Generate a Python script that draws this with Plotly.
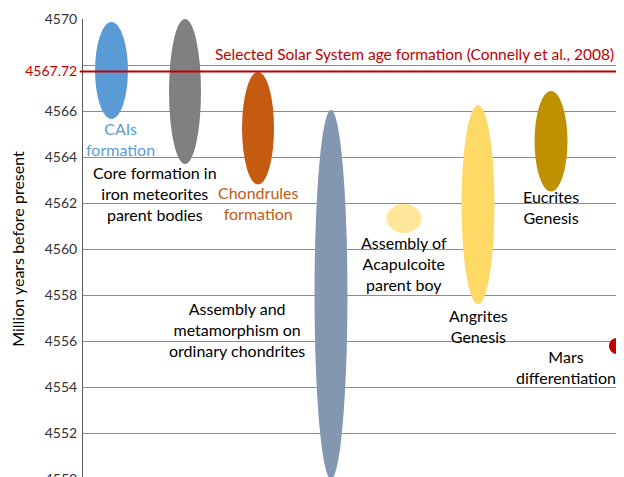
import plotly.graph_objects as go

# ---- data ----
events = ["CAIs", "Core formation", "Chondrules", "Ordinary chondrites",
          "Acapulcoite", "Angrites", "Eucrites", "Mars"]
x_center = [5.19, 18.58, 31.88, 45.17, 58.47, 71.95, 85.25, 97.3]   # column position (0-100)
x_width = [6.0, 5.83, 5.83, 6.0, 6.38, 6.0, 6.0, 3.0]
age_old = [4569.87, 4570.0, 4567.7, 4566.05, 4561.96, 4566.26, 4566.87, 4556.13]
age_young = [4565.65, 4563.7, 4562.8, 4550.0, 4560.7, 4557.6, 4562.5, 4555.43]
colors = ["#5B9BD5", "#808080", "#C55A11", "#8497B0", "#FFE699", "#FFD966", "#BF9000", "#C00000"]

labels = ["CAIs<br>formation",
          "Core formation in<br>iron meteorites<br>parent bodies",
          "Chondrules<br>formation",
          "Assembly and<br>metamorphism on<br>ordinary chondrites",
          "Assembly of<br>Acapulcoite<br>parent boy",
          "Angrites<br>Genesis",
          "Eucrites<br>Genesis",
          "Mars<br>differentiation"]
label_x = [6.92, 13.11, 31.88, 28.05, 58.47, 71.95, 85.25, 87.98]
label_y = [4564.8, 4562.43, 4561.98, 4556.48, 4559.39, 4556.67, 4561.83, 4554.89]
label_color = ["#5B9BD5", "#000000", "#C55A11", "#000000", "#000000", "#000000", "#000000", "#000000"]

ss_age = 4567.72
ss_label = "Selected Solar System age formation (Connelly et al., 2008)"
ss_label_x = 60.47
ss_label_y = 4568.48

tick_vals = [4550, 4552, 4554, 4556, 4558, 4560, 4562, 4564, 4566, ss_age, 4568, 4570]
tick_text = [str(v) for v in [4550, 4552, 4554, 4556, 4558, 4560, 4562, 4564, 4566]] + \
            ['<span style="color:#C00000">4567.72</span>', "", "4570"]

FONT = "Lato, 'Noto Sans', sans-serif"

fig = go.Figure()
# invisible trace to set up axes
fig.add_trace(go.Scatter(x=[0, 100], y=[4550, 4570], mode="markers",
                         marker=dict(opacity=0), hoverinfo="skip", showlegend=False))

shapes = []
for xc, w, a0, a1, c in zip(x_center, x_width, age_old, age_young, colors):
    shapes.append(dict(type="circle", xref="x", yref="y",
                       x0=xc - w / 2, x1=xc + w / 2, y0=a1, y1=a0,
                       fillcolor=c, line=dict(width=0), layer="above"))
shapes.append(dict(type="line", xref="paper", yref="y", x0=-0.006, x1=1,
                   y0=ss_age, y1=ss_age, line=dict(color="#C00000", width=2), layer="above"))

annotations = []
for t, lx, ly, lc in zip(labels, label_x, label_y, label_color):
    annotations.append(dict(text=t, x=lx, y=ly, xref="x", yref="y", showarrow=False,
                            font=dict(family=FONT, size=16, color=lc),
                            xanchor="center", yanchor="middle", align="center"))
annotations.append(dict(text=ss_label, x=ss_label_x, y=ss_label_y, xref="x", yref="y",
                        showarrow=False, font=dict(family=FONT, size=15.5, color="#C00000"),
                        xanchor="center", yanchor="middle"))

fig.update_layout(
    width=624, height=477,
    margin=dict(l=75, r=0, t=11, b=6),
    paper_bgcolor="white", plot_bgcolor="white",
    showlegend=False,
    shapes=shapes, annotations=annotations,
    font=dict(family=FONT, size=14, color="#333333"),
    xaxis=dict(range=[0, 100], visible=False, fixedrange=True, automargin=False),
    yaxis=dict(range=[4550, 4570], tickvals=tick_vals, ticktext=tick_text,
               automargin=False, ticklabeloverflow="allow",
               showgrid=True, gridcolor="#8c8c8c", gridwidth=1,
               showline=True, linecolor="#595959", linewidth=1,
               zeroline=False, ticks="", ticklabelstandoff=2,
               tickfont=dict(family=FONT, size=14, color="#333333"),
               title=dict(text="Million years before present",
                          font=dict(family=FONT, size=16, color="#000000"), standoff=7)),
)

fig.write_html("out.html")
